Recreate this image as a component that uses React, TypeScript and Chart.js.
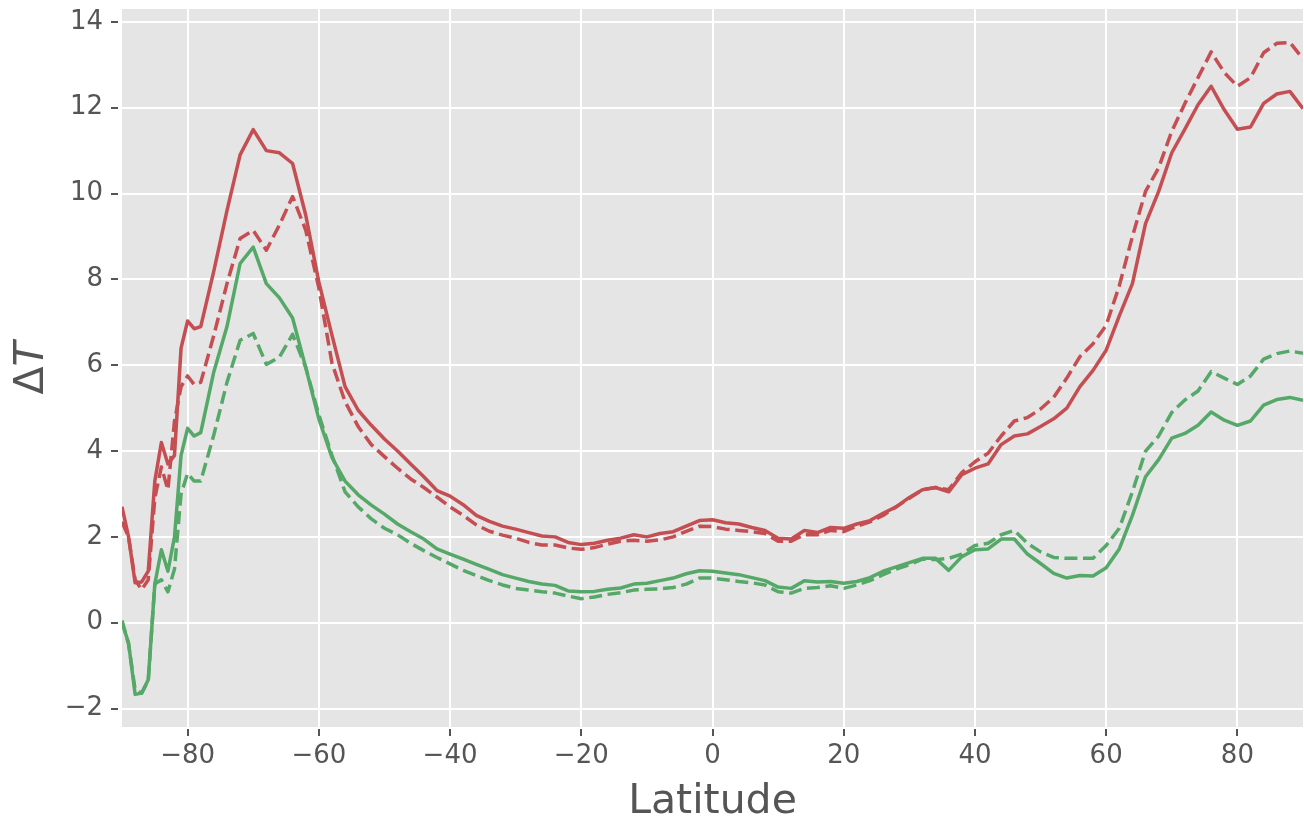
import React, { useEffect, useRef } from "react";
import { Chart, registerables } from "chart.js";

Chart.register(...registerables);

// Latitude grid (degrees)
const latitudes: number[] = [
  -90, -89, -88, -87, -86, -85, -84, -83, -82, -81, -80, -79, -78,
  -76, -74, -72, -70, -68, -66, -64, -62, -60,
  -58, -56, -54, -52, -50, -48, -46, -44, -42, -40, -38, -36, -34, -32, -30,
  -28, -26, -24, -22, -20, -18, -16, -14, -12, -10, -8, -6, -4, -2, 0,
  2, 4, 6, 8, 10, 12, 14, 16, 18, 20, 22, 24, 26, 28, 30,
  32, 34, 36, 38, 40, 42, 44, 46, 48, 50, 52, 54, 56, 58, 60,
  62, 64, 66, 68, 70, 72, 74, 76, 78, 80, 82, 84, 86, 88, 90,
];

// Red solid
const redSolid: number[] = [
  2.7, 2.0, 0.93, 0.95, 1.2, 3.3, 4.2, 3.7, 3.9, 6.4, 7.03, 6.85, 6.9,
  8.2, 9.6, 10.9, 11.49, 11.0, 10.95, 10.7, 9.5, 7.94,
  6.7, 5.5, 4.95, 4.6, 4.28, 4.0, 3.7, 3.4, 3.08, 2.95, 2.75, 2.5, 2.36, 2.25, 2.18,
  2.1, 2.02, 2.0, 1.87, 1.82, 1.85, 1.92, 1.97, 2.05, 2.0, 2.08, 2.12, 2.25, 2.38, 2.4,
  2.33, 2.3, 2.22, 2.15, 1.97, 1.95, 2.15, 2.1, 2.22, 2.2, 2.3, 2.38, 2.55, 2.7, 2.92,
  3.1, 3.15, 3.05, 3.45, 3.6, 3.7, 4.15, 4.35, 4.4, 4.57, 4.75, 5.0, 5.5, 5.88, 6.35,
  7.15, 7.9, 9.3, 10.05, 10.95, 11.5, 12.07, 12.5, 11.95, 11.5, 11.55, 12.1, 12.32, 12.38, 11.98,
];

// Red dashed
const redDashed: number[] = [
  2.35, 2.0, 1.0, 0.77, 1.0, 2.9, 3.63, 3.1, 4.7, 5.5, 5.75, 5.55, 5.6,
  6.7, 7.9, 8.95, 9.14, 8.68, 9.27, 9.93, 9.15, 7.8,
  6.05, 5.15, 4.57, 4.15, 3.87, 3.6, 3.35, 3.15, 2.93, 2.7, 2.5, 2.28, 2.13, 2.04, 1.97,
  1.87, 1.81, 1.81, 1.74, 1.71, 1.75, 1.83, 1.9, 1.92, 1.9, 1.93, 2.0, 2.13, 2.25, 2.24,
  2.18, 2.15, 2.12, 2.08, 1.9, 1.9, 2.05, 2.05, 2.15, 2.12, 2.25, 2.35, 2.5, 2.7, 2.9,
  3.1, 3.15, 3.1, 3.5, 3.75, 3.95, 4.35, 4.7, 4.78, 4.98, 5.25, 5.7, 6.2, 6.5, 6.93,
  7.85, 9.0, 10.05, 10.6, 11.45, 12.1, 12.7, 13.3, 12.82, 12.5, 12.7, 13.28, 13.5, 13.52, 13.14,
];

// Green solid
const greenSolid: number[] = [
  0.0, -0.47, -1.67, -1.64, -1.33, 0.9, 1.7, 1.2, 2.0, 3.9, 4.53, 4.35, 4.43,
  5.85, 6.9, 8.37, 8.75, 7.9, 7.57, 7.1, 5.95, 4.75,
  3.85, 3.3, 2.98, 2.74, 2.53, 2.3, 2.12, 1.95, 1.72, 1.6, 1.48, 1.36, 1.24, 1.12, 1.04,
  0.96, 0.9, 0.87, 0.74, 0.72, 0.73, 0.78, 0.81, 0.9, 0.92, 0.98, 1.04, 1.14, 1.21, 1.2,
  1.16, 1.12, 1.05, 0.98, 0.83, 0.8, 0.98, 0.95, 0.96, 0.92, 0.96, 1.05, 1.2, 1.3, 1.4,
  1.5, 1.5, 1.22, 1.54, 1.7, 1.72, 1.95, 1.95, 1.6, 1.38, 1.15, 1.04, 1.1, 1.09, 1.28,
  1.72, 2.5, 3.4, 3.8, 4.3, 4.41, 4.6, 4.91, 4.72, 4.6, 4.7, 5.07, 5.2, 5.25, 5.18,
];

// Green dashed
const greenDashed: number[] = [
  0.05, -0.5, -1.56, -1.64, -1.35, 0.9, 1.0, 0.72, 1.25, 3.0, 3.48, 3.3, 3.3,
  4.38, 5.6, 6.58, 6.74, 6.02, 6.19, 6.72, 5.95, 4.85,
  3.9, 3.05, 2.7, 2.42, 2.2, 2.05, 1.85, 1.68, 1.52, 1.37, 1.22, 1.1, 0.98, 0.88, 0.8,
  0.76, 0.72, 0.69, 0.62, 0.56, 0.6, 0.66, 0.7, 0.76, 0.78, 0.79, 0.82, 0.9, 1.04, 1.04,
  1.0, 0.96, 0.93, 0.88, 0.72, 0.69, 0.8, 0.82, 0.86, 0.8, 0.88, 0.98, 1.12, 1.25, 1.35,
  1.48, 1.47, 1.5, 1.6, 1.8, 1.85, 2.05, 2.15, 1.85, 1.65, 1.52, 1.5, 1.5, 1.5, 1.8,
  2.2, 3.05, 4.0, 4.35, 4.9, 5.19, 5.4, 5.85, 5.7, 5.55, 5.75, 6.14, 6.27, 6.33, 6.28,
];

const xTickValues: number[] = [-80, -60, -40, -20, 0, 20, 40, 60, 80];
const yTickValues: number[] = [-2, 0, 2, 4, 6, 8, 10, 12, 14];

const xLabel = "Latitude";
const yLabelPrefix = "\u0394";
const yLabelItalic = "T";

const RED = "#C44E52";
const GREEN = "#55A868";
const TEXT = "#555555";
const FONT = "'DejaVu Sans', sans-serif";
const LW = 3.5;
const DASH = [13, 5.6];

const fmt = (v: number) => (v < 0 ? "\u2212" + Math.abs(v) : String(v));

const decorPlugin = {
  id: "decor",
  beforeDraw(chart: any) {
    const { ctx, chartArea } = chart;
    ctx.save();
    ctx.fillStyle = "#E5E5E5";
    ctx.fillRect(chartArea.left, chartArea.top, chartArea.right - chartArea.left, chartArea.bottom - chartArea.top);
    ctx.restore();
  },
  afterDraw(chart: any) {
    const { ctx, chartArea, scales } = chart;
    ctx.save();
    ctx.strokeStyle = TEXT;
    ctx.lineWidth = 2;
    for (const v of xTickValues) {
      const px = Math.round(scales.x.getPixelForValue(v));
      ctx.beginPath();
      ctx.moveTo(px, chartArea.bottom + 2);
      ctx.lineTo(px, chartArea.bottom + 9);
      ctx.stroke();
    }
    for (const v of yTickValues) {
      const py = Math.round(scales.y.getPixelForValue(v));
      ctx.beginPath();
      ctx.moveTo(chartArea.left - 11, py);
      ctx.lineTo(chartArea.left - 4, py);
      ctx.stroke();
    }
    // x axis label
    ctx.fillStyle = TEXT;
    ctx.font = `41px ${FONT}`;
    ctx.textAlign = "center";
    ctx.textBaseline = "alphabetic";
    ctx.fillText(xLabel, (chartArea.left + chartArea.right) / 2, 813);
    // y axis label
    const cy = (chartArea.top + chartArea.bottom) / 2;
    ctx.translate(43, cy);
    ctx.rotate(-Math.PI / 2);
    ctx.font = `41px ${FONT}`;
    const w1 = ctx.measureText(yLabelPrefix).width;
    ctx.font = `italic 41px ${FONT}`;
    const w2 = ctx.measureText(yLabelItalic).width;
    const start = -(w1 + w2) / 2;
    ctx.textAlign = "left";
    ctx.font = `41px ${FONT}`;
    ctx.fillText(yLabelPrefix, start, 0);
    ctx.font = `italic 41px ${FONT}`;
    ctx.fillText(yLabelItalic, start + w1, 0);
    ctx.restore();
  },
};

export default function App() {
  const canvasRef = useRef<HTMLCanvasElement | null>(null);

  useEffect(() => {
    if (!canvasRef.current) return;
    const mk = (vals: number[]) => latitudes.map((x, i) => ({ x, y: vals[i] }));
    const chart = new Chart(canvasRef.current, {
      type: "line",
      data: {
        datasets: [
          { label: "red solid", data: mk(redSolid), borderColor: RED, borderWidth: LW, pointRadius: 0, fill: false, tension: 0 },
          { label: "red dashed", data: mk(redDashed), borderColor: RED, borderWidth: LW, borderDash: DASH, pointRadius: 0, fill: false, tension: 0 },
          { label: "green solid", data: mk(greenSolid), borderColor: GREEN, borderWidth: LW, pointRadius: 0, fill: false, tension: 0 },
          { label: "green dashed", data: mk(greenDashed), borderColor: GREEN, borderWidth: LW, borderDash: DASH, pointRadius: 0, fill: false, tension: 0 },
        ],
      },
      options: {
        animation: false,
        responsive: false,
        layout: { padding: { left: 0, right: 1, top: 9, bottom: 0 } },
        plugins: { legend: { display: false }, tooltip: { enabled: false } },
        elements: { line: { borderJoinStyle: "round", borderCapStyle: "butt" } },
        scales: {
          x: {
            type: "linear",
            min: -90,
            max: 90,
            border: { display: false },
            grid: { color: "#FFFFFF", lineWidth: 2, drawTicks: false },
            afterBuildTicks: (s: any) => {
              s.ticks = xTickValues.map((v) => ({ value: v }));
            },
            afterFit: (s: any) => {
              s.height = 93;
              s.paddingLeft = 0;
              s.paddingRight = 0;
            },
            ticks: {
              color: TEXT,
              font: { family: FONT, size: 26 },
              padding: 14,
              maxRotation: 0,
              autoSkip: false,
              callback: (v: any) => fmt(Number(v)),
            },
          },
          y: {
            type: "linear",
            min: -2.43,
            max: 14.3,
            border: { display: false },
            grid: { color: "#FFFFFF", lineWidth: 2, drawTicks: false },
            afterBuildTicks: (s: any) => {
              s.ticks = yTickValues.map((v) => ({ value: v }));
            },
            afterFit: (s: any) => {
              s.width = 122;
              s.paddingTop = 0;
              s.paddingBottom = 0;
            },
            ticks: {
              color: TEXT,
              font: { family: FONT, size: 26 },
              padding: 19,
              autoSkip: false,
              callback: (v: any) => fmt(Number(v)),
            },
          },
        },
      },
      plugins: [decorPlugin],
    });
    return () => chart.destroy();
  }, []);

  return (
    <div style={{ position: "fixed", left: 0, top: 0, width: 1304, height: 820, background: "#FFFFFF" }}>
      <canvas ref={canvasRef} width={1304} height={820} />
    </div>
  );
}
